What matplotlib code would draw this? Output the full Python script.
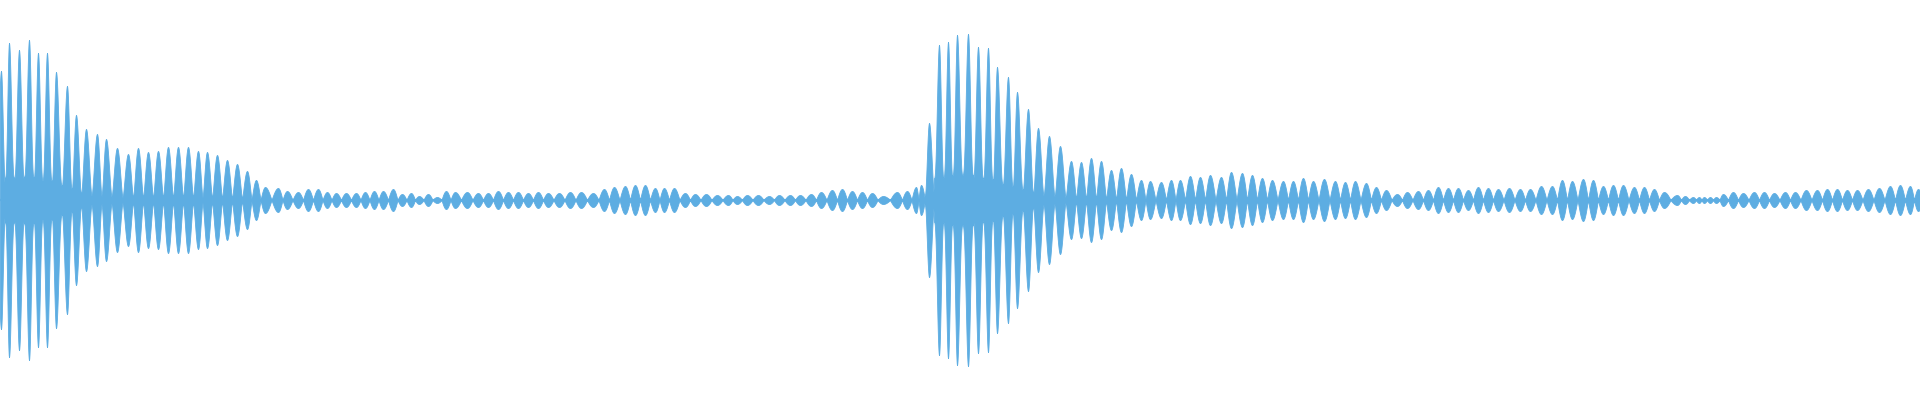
import numpy as np
import matplotlib
matplotlib.use("Agg")
import matplotlib.pyplot as plt

# lobe centres (pixel time position) and peak amplitudes
lobe_pos = [
    1, 9, 19, 29, 38, 47, 56, 67, 76, 86, 97, 106, 117, 128, 138, 148, 158, 168, 178, 188,
    198, 207, 217, 227, 237, 247, 256, 265, 278, 287, 298,
    308, 318, 327, 336, 346, 356, 365, 374, 383, 393, 402, 411, 419, 428, 437, 446, 455, 467, 478, 488,
    498, 508, 518, 528, 538, 548, 559, 570, 581, 593,
    604, 614, 625, 635, 645, 655, 664, 674, 685, 695, 706, 717, 728, 737, 747, 758, 769, 779, 790, 800,
    811, 821, 832, 842, 852, 862, 872, 883, 897, 907, 916, 921,
    929, 939, 948, 957, 968, 978, 988, 997, 1008, 1017, 1028, 1038, 1049, 1060, 1071, 1081, 1091,
    1101, 1111, 1121, 1131, 1141, 1150, 1161, 1171, 1180, 1190, 1200, 1210, 1221, 1231, 1242, 1252, 1262, 1272, 1283, 1293,
    1303, 1313, 1324, 1335, 1345, 1355, 1366, 1376, 1386, 1397, 1407, 1418, 1428, 1438, 1448, 1458, 1468, 1478, 1488, 1498,
    1509, 1520, 1530, 1541, 1552, 1562, 1572, 1583, 1593, 1603, 1613, 1623, 1634, 1644, 1654, 1664, 1677, 1685, 1693, 1699,
    1704, 1710, 1716, 1723, 1733, 1743, 1754, 1764, 1774, 1785, 1795, 1806, 1817, 1827, 1837, 1847, 1857, 1868, 1879, 1890,
    1900, 1910, 1918,
]
lobe_amp = [
    129, 157, 150, 160, 147, 147, 128, 114, 85, 71, 66, 61, 52, 46, 52, 48, 49, 53, 53, 53,
    49, 48, 45, 40, 36, 29, 20, 13, 12, 9, 8,
    11, 11, 8, 7, 7, 7, 8, 9, 9, 11, 6, 7, 4, 6, 3, 9, 8, 8, 7, 7,
    9, 8, 8, 7, 8, 7, 7, 8, 8, 7,
    11, 13, 14, 15, 15, 12, 12, 12, 7, 6, 6, 5, 5, 4, 5, 5, 4, 5, 5, 5,
    6, 8, 10, 11, 9, 8, 7, 4, 8, 9, 13, 15,
    77, 155, 158, 165, 166, 153, 152, 133, 123, 108, 91, 72, 64, 54, 39, 38, 42,
    39, 30, 32, 26, 20, 19, 18, 20, 20, 24, 23, 25, 23, 28, 27, 25, 22, 20, 19, 19,
    22, 19, 21, 19, 18, 19, 17, 13, 10, 6, 8, 9, 10, 13, 12, 12, 10, 13, 12, 11,
    12, 11, 11, 14, 14, 20, 19, 21, 20, 14, 15, 15, 13, 13, 11, 8, 5, 4, 3, 3,
    3, 3, 3, 6, 8, 7, 8, 8, 7, 8, 8, 10, 10, 11, 11, 10, 10, 11, 12, 14,
    15, 14, 11,
]

wave_color = "#5DADE2"

centers = np.array(lobe_pos, dtype=float)
amps = np.array(lobe_amp, dtype=float)
half_l = np.diff(centers, prepend=centers[0] - 10) / 2
half_r = np.diff(centers, append=centers[-1] + 10) / 2

# build the envelope out of spindle-shaped lobes
t = np.arange(0, 1920, 0.25)
env = np.zeros_like(t)
for c, a, l, r in zip(centers, amps, half_l, half_r):
    m = (t >= c - l) & (t <= c + r)
    tt = t[m]
    u = np.where(tt < c, (tt - c) / (2 * l), (tt - c) / (2 * r))
    p = 0.9 + a / 90
    floor = a ** 2 / 1100
    shape = floor + (a - floor) * np.cos(np.pi * u) ** p
    env[m] = np.maximum(env[m], shape)

fig = plt.figure(figsize=(19.2, 4), dpi=100)
ax = fig.add_axes([0, 0, 1, 1])
ax.fill_between(t, -env, env, color=wave_color, linewidth=0.6)
ax.axhline(0, color=wave_color, lw=1.5)
ax.set_xlim(0, 1920)
ax.set_ylim(-200, 200)
ax.axis("off")

fig.savefig("out.png", dpi=100, facecolor="white")
